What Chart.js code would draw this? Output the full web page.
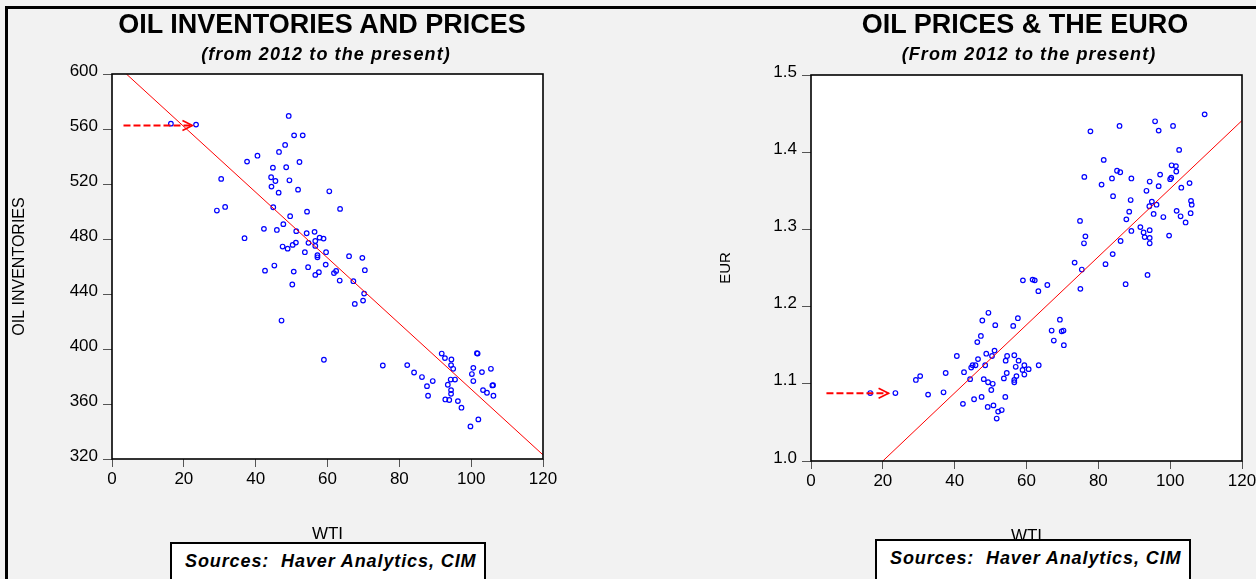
<!DOCTYPE html>
<html>
<head>
<meta charset="utf-8">
<script src="https://cdn.jsdelivr.net/npm/chart.js@4.4.1/dist/chart.umd.min.js"></script>
<style>
  body{margin:0;width:1256px;height:579px;overflow:hidden;background:#f2f2f2;position:relative;font-family:'Liberation Sans',Arial,sans-serif;}
  #frame{position:absolute;left:5px;top:6px;width:1400px;height:700px;border-left:3px solid #000;border-top:3px solid #000;}
  canvas{position:absolute;top:0;}
  .t{position:absolute;transform:translate(-50%,-50%);white-space:nowrap;color:#000;}
  .title{font-weight:bold;font-size:27px;}
  .sub{font-weight:bold;font-style:italic;font-size:18px;letter-spacing:1.1px;}
  .src{position:absolute;background:#fff;border:2px solid #000;height:60px;box-sizing:border-box;
       font-weight:bold;font-style:italic;font-size:18px;letter-spacing:0.9px;white-space:nowrap;padding:7px 0 0 13px;}
</style>
</head>
<body>
<div id="frame"></div>
<canvas id="c1" width="628" height="579" style="left:0"></canvas>
<canvas id="c2" width="700" height="579" style="left:628px"></canvas>

<div class="t title" style="left:322px;top:24px">OIL INVENTORIES AND PRICES</div>
<div class="t sub" style="left:326px;top:54px">(from 2012 to the present)</div>
<div class="t title" style="left:1025px;top:24px">OIL PRICES &amp; THE EURO</div>
<div class="t sub" style="left:1029px;top:54px">(From 2012 to the present)</div>

<div class="src" style="left:170px;top:542px;width:316px">Sources:&nbsp; Haver Analytics, CIM</div>
<div class="src" style="left:875px;top:539px;width:316px">Sources:&nbsp; Haver Analytics, CIM</div>

<script>
// ---- left chart: WTI vs oil inventories
const invWti = [16.4,23.4,49.2,50.7,53.1,48.2,46.5,40.5,37.6,52.2,44.8,48.5,30.4,44.3,45.5,49.4,44.4,51.8,46.4,60.5,
  29.2,31.5,44.9,54.3,63.5,49.6,47.7,42.3,45.9,51.3,54.2,56.4,36.9,57.8,58.9,54.7,56.6,47.5,48.9,50.3,51.2,56.6,
  53.7,59.6,57.2,57.2,66.0,69.7,42.6,45.2,50.6,54.6,56.6,57.6,59.5,61.8,62.4,63.4,67.2,70.2,69.9,67.6,70.4,50.2,
  47.2,59.0,75.4,82.2,84.1,86.3,89.3,87.7,88.0,91.8,92.7,94.5,94.4,95.0,94.3,95.5,93.5,94.4,94.4,92.8,93.9,96.3,
  97.3,99.8,102.0,101.8,101.6,100.6,100.2,100.6,103.0,105.5,105.9,106.1,103.3,104.4,106.2];
const invLevel = [563.9,563.2,569.5,555.4,555.4,548.4,543.3,540.6,536.3,536.0,531.9,532.2,523.7,524.9,522.2,522.7,518.1,515.9,513.7,514.7,
  500.7,503.3,503.1,499.9,501.9,496.6,490.8,487.4,486.6,485.7,484.2,485.2,480.6,481.0,480.3,477.2,478.6,474.5,473.0,475.7,477.4,475.0,
  470.4,470.4,468.2,466.7,467.5,466.3,457.0,460.7,456.3,459.5,453.9,455.9,461.4,455.2,456.8,449.8,449.3,440.3,435.2,432.8,457.3,446.9,
  420.7,392.2,388.0,388.3,382.9,379.6,376.7,373.0,366.0,396.7,393.4,392.4,388.3,385.6,377.8,377.8,374.0,370.1,367.4,363.3,362.9,362.1,
  357.3,343.7,348.8,396.7,396.9,386.3,381.8,376.7,383.2,385.6,373.5,373.7,370.1,368.2,366.0];
const invFitX = [4, 120];
const invFitY = [600, 323];
const invArrowX = [3.2, 22.4];
const invArrowY = [562.6, 562.6];
const invTicks = [320, 360, 400, 440, 480, 520, 560, 600];

// ---- right chart: WTI vs EUR
const eurWti = [109.6,95.8,100.8,85.9,96.8,77.8,102.5,81.5,100.4,101.6,85.2,86.1,101.7,97.2,76.1,100.3,100.0,83.8,89.2,94.3,
  80.9,96.8,105.4,103.1,93.4,84.1,89.0,105.8,106.0,94.9,96.2,94.2,88.6,95.4,101.8,102.9,105.7,104.3,98.1,87.8,74.9,91.7,
  89.2,94.3,92.6,92.9,94.3,99.7,76.4,86.2,76.0,94.3,73.4,75.4,84.0,82.0,93.7,75.0,87.6,69.8,70.3,70.4,
  59.0,61.7,62.3,65.8,63.3,69.3,67.0,67.6,49.4,47.7,51.3,57.6,56.3,47.3,46.3,40.6,46.5,48.8,50.4,51.1,44.6,45.0,45.8,48.5,
  54.6,54.2,56.6,57.8,63.4,57.0,59.4,60.6,58.9,59.4,54.5,53.7,57.2,56.6,56.6,42.6,37.5,29.2,30.4,32.6,36.9,23.5,16.5,
  44.3,48.1,49.3,50.6,50.2,47.5,45.4,42.3,54.1,49.2,50.8,52.1,53.1,51.7];
const eurRate = [1.449,1.440,1.434,1.434,1.428,1.427,1.403,1.390,1.383,1.382,1.376,1.374,1.375,1.371,1.368,1.367,1.365,1.366,1.366,1.362,
  1.358,1.356,1.360,1.354,1.350,1.343,1.338,1.337,1.332,1.336,1.332,1.330,1.323,1.320,1.324,1.317,1.321,1.309,1.316,1.313,1.311,1.303,
  1.298,1.299,1.296,1.290,1.289,1.292,1.291,1.285,1.282,1.282,1.257,1.248,1.268,1.255,1.241,1.223,1.229,1.168,1.169,1.150,
  1.234,1.235,1.234,1.228,1.220,1.183,1.169,1.156,1.192,1.182,1.176,1.185,1.175,1.162,1.154,1.136,1.132,1.139,1.136,1.143,1.121,1.124,1.124,1.124,
  1.136,1.130,1.137,1.130,1.124,1.122,1.124,1.119,1.118,1.112,1.114,1.107,1.110,1.105,1.102,1.115,1.114,1.105,1.110,1.086,1.089,1.088,1.088,
  1.106,1.106,1.102,1.100,1.092,1.083,1.080,1.074,1.083,1.070,1.072,1.064,1.066,1.055];
const eurFitX = [20, 120];
const eurFitY = [1.0, 1.441];
const eurArrowX = [4.3, 21.6];
const eurArrowY = [1.0877, 1.0877];
const eurTicks = [1.0, 1.1, 1.2, 1.3, 1.4, 1.5];

const wtiTicks = [0, 20, 40, 60, 80, 100, 120];

const FONT = "'Liberation Sans', Arial, sans-serif";

function pairs(xs, ys){ return xs.map((x,i)=>({x:x, y:ys[i]})); }

const plotFrame = {
  id:'plotFrame',
  beforeDatasetsDraw(chart){
    const a = chart.chartArea, c = chart.ctx;
    c.save(); c.fillStyle = '#fff'; c.fillRect(a.left, a.top, a.right-a.left, a.bottom-a.top); c.restore();
  },
  afterDraw(chart){
    const a = chart.chartArea, c = chart.ctx;
    c.save(); c.strokeStyle = '#000'; c.lineWidth = 1.6;
    c.strokeRect(a.left, a.top, a.right-a.left, a.bottom-a.top); c.restore();
  }
};

const arrowPlugin = {
  id:'arrow',
  afterDatasetsDraw(chart, args, opts){
    const sx = chart.scales.x, sy = chart.scales.y, c = chart.ctx;
    const x0 = sx.getPixelForValue(opts.xs[0]), x1 = sx.getPixelForValue(opts.xs[1]);
    const y0 = sy.getPixelForValue(opts.ys[0]), y1 = sy.getPixelForValue(opts.ys[1]);
    c.save();
    c.strokeStyle = '#ff0000'; c.lineWidth = 2;
    c.setLineDash([7,3]);
    c.beginPath(); c.moveTo(x0, y0); c.lineTo(x1, y1); c.stroke();
    c.setLineDash([]); c.lineWidth = 1.6;
    c.beginPath(); c.moveTo(x1-10, y1-5); c.lineTo(x1, y1); c.lineTo(x1-10, y1+5); c.stroke();
    c.restore();
  }
};

function makeChart(id, xs, ys, fitX, fitY, arrX, arrY, yTicks, o){
  return new Chart(document.getElementById(id), {
    type:'scatter',
    data:{datasets:[
      {data:pairs(xs, ys), pointStyle:'circle', pointRadius:2.3, pointBorderWidth:1.2,
       borderColor:'#0000ff', backgroundColor:'rgba(255,255,255,0)', order:2},
      {type:'line', data:pairs(fitX, fitY), borderColor:'#ff0000', borderWidth:1, pointRadius:0, order:1}
    ]},
    options:{
      responsive:false, animation:false, events:[],
      layout:{padding:{left:0, top:o.top, right:o.right, bottom:0}},
      plugins:{legend:{display:false}, tooltip:{enabled:false}, arrow:{xs:arrX, ys:arrY}},
      scales:{
        x:{type:'linear', min:0, max:120,
           afterBuildTicks(s){ s.ticks = wtiTicks.map(v=>({value:v})); },
           afterFit(s){ s.height = o.xh; },
           grid:{drawOnChartArea:false, drawTicks:true, tickLength:8, color:'#555'},
           border:{display:false},
           ticks:{font:{family:FONT, size:17}, color:'#000', padding:2, maxRotation:0},
           title:{display:true, text:'WTI', font:{family:FONT, size:17}, color:'#000', padding:{top:0, bottom:o.xtitle}}},
        y:{type:'linear', min:yTicks[0], max:yTicks[yTicks.length-1],
           afterBuildTicks(s){ s.ticks = yTicks.map(v=>({value:v})); },
           afterFit(s){ s.width = o.yw; },
           grid:{drawOnChartArea:false, drawTicks:true, tickLength:9, color:'#555'},
           border:{display:false},
           ticks:{font:{family:FONT, size:17}, color:'#000', padding:5, labelOffset:-3,
                  callback:o.fmt},
           title:{display:true, text:o.ytitle, font:{family:FONT, size:o.ysize}, color:'#000', padding:{top:o.ypad, bottom:0}}}
      }
    },
    plugins:[plotFrame, arrowPlugin]
  });
}

makeChart('c1', invWti, invLevel, invFitX, invFitY, invArrowX, invArrowY, invTicks,
  {top:74, right:85, xh:120, yw:112, xtitle:34, ytitle:'OIL INVENTORIES', ysize:16, ypad:10, fmt:v=>String(v)});
makeChart('c2', eurWti, eurRate, eurFitX, eurFitY, eurArrowX, eurArrowY, eurTicks,
  {top:75, right:86, xh:118, yw:183, xtitle:32, ytitle:'EUR', ysize:15, ypad:89, fmt:v=>v.toFixed(1)});
</script>
</body>
</html>
